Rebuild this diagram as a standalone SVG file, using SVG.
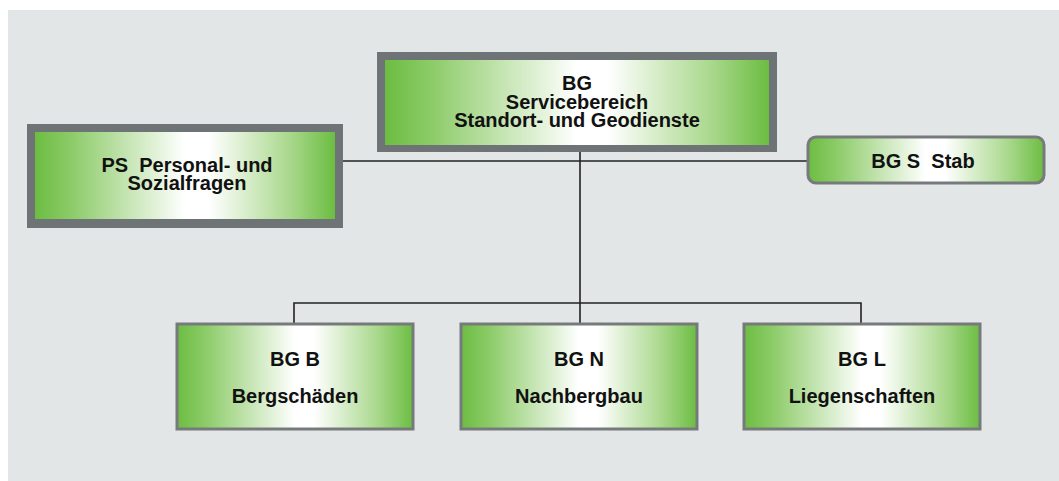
<svg xmlns="http://www.w3.org/2000/svg" width="1059" height="481" viewBox="0 0 1059 481">
<defs>
<linearGradient id="g" x1="0" y1="0" x2="1" y2="0">
<stop offset="0" stop-color="#6cbd42"/>
<stop offset="0.12" stop-color="#8ccb68"/>
<stop offset="0.5" stop-color="#ffffff"/>
<stop offset="0.58" stop-color="#ffffff"/>
<stop offset="0.85" stop-color="#a9d88c"/>
<stop offset="1" stop-color="#6cbd42"/>
</linearGradient>
<style>
.frame{fill:#6e7375}
.fill{fill:url(#g)}
.thin{fill:url(#g);stroke:#767a7c;stroke-width:3}
.t{font-family:"Liberation Sans",Arial,sans-serif;font-weight:bold;font-size:20px;fill:#111;text-anchor:middle}
.c{fill:none;stroke:#222;stroke-width:1.6}
</style>
</defs>
<rect x="8" y="10" width="1051" height="471" fill="#e3e6e7"/>
<g id="connectors">
<line class="c" x1="343" y1="161" x2="807" y2="161"/>
<line class="c" x1="580" y1="152" x2="580" y2="323"/>
<polyline class="c" points="294,323 294,303 861,303 861,323"/>
</g>
<g id="node-bg">
<rect class="frame" x="377" y="52" width="400" height="100"/>
<rect class="fill" x="385" y="60" width="384" height="85"/>
<text class="t" x="577" y="90">BG</text>
<text class="t" x="577" y="108.5">Servicebereich</text>
<text class="t" x="577" y="127">Standort- und Geodienste</text>
</g>
<g id="node-ps">
<rect class="frame" x="27" y="124" width="316" height="104"/>
<rect class="fill" x="35" y="132" width="300" height="87"/>
<text class="t" x="187" y="172" xml:space="preserve">PS  Personal- und</text>
<text class="t" x="187" y="190">Sozialfragen</text>
</g>
<g id="node-bgs">
<rect class="thin" x="808" y="137" width="236" height="46" rx="8"/>
<text class="t" x="923" y="168" xml:space="preserve">BG S  Stab</text>
</g>
<g id="node-bgb">
<rect class="thin" x="177" y="324" width="236" height="105"/>
<text class="t" x="295" y="366">BG B</text>
<text class="t" x="295" y="403">Bergschäden</text>
</g>
<g id="node-bgn">
<rect class="thin" x="461" y="324" width="236" height="105"/>
<text class="t" x="579" y="366">BG N</text>
<text class="t" x="579" y="403">Nachbergbau</text>
</g>
<g id="node-bgl">
<rect class="thin" x="744" y="324" width="236" height="105"/>
<text class="t" x="862" y="366">BG L</text>
<text class="t" x="862" y="403">Liegenschaften</text>
</g>
</svg>
